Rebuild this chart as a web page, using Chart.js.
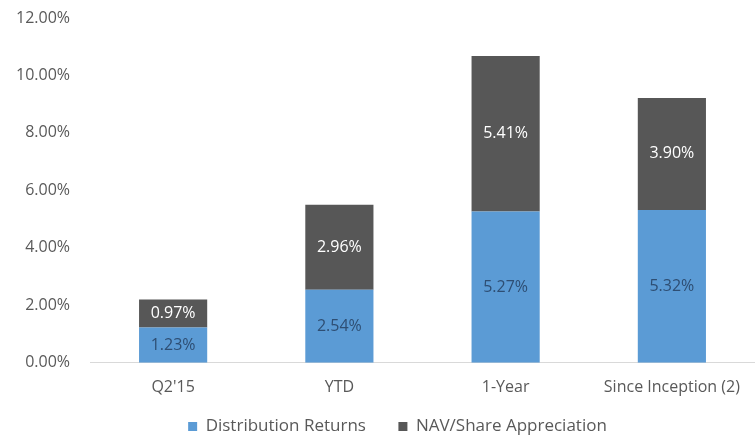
<!DOCTYPE html>
<html>
<head>
<meta charset="utf-8">
<script src="https://cdn.jsdelivr.net/npm/chart.js@4.4.0/dist/chart.umd.min.js"></script>
<style>
  html, body { margin: 0; padding: 0; background: #ffffff; }
  #wrap { width: 755px; height: 438px; }
</style>
</head>
<body>
<div id="wrap"><canvas id="myChart"></canvas></div>
<script>
const categories = ["Q2'15", "YTD", "1-Year", "Since Inception (2)"];
const distributionReturns = [1.23, 2.54, 5.27, 5.32];
const navAppreciation = [0.97, 2.96, 5.41, 3.90];
const yTicks = [0, 2, 4, 6, 8, 10, 12];

const FONT = '"Open Sans", sans-serif';

// draws the value in the middle of each bar segment
const barLabels = {
  id: 'barLabels',
  afterDatasetsDraw(chart) {
    const ctx = chart.ctx;
    ctx.save();
    ctx.font = '16px ' + FONT;
    ctx.textAlign = 'center';
    ctx.textBaseline = 'middle';
    chart.data.datasets.forEach((ds, i) => {
      const meta = chart.getDatasetMeta(i);
      meta.data.forEach((bar, j) => {
        const mid = (bar.y + bar.base) / 2;
        ctx.fillStyle = ds.labelColor;
        ctx.fillText(ds.data[j].toFixed(2) + '%', bar.x, mid);
      });
    });
    ctx.restore();
  }
};

// legend sits a bit right of the canvas centre in the original
const legendShift = {
  id: 'legendShift',
  afterLayout(chart) {
    chart.legend.left += 40;
  }
};

const ctx = document.getElementById('myChart').getContext('2d');
new Chart(ctx, {
  type: 'bar',
  data: {
    labels: categories,
    datasets: [
      {
        label: 'Distribution Returns',
        data: distributionReturns,
        backgroundColor: '#5b9bd5',
        labelColor: '#2e4e73',
        barPercentage: 0.41,
        categoryPercentage: 1.0
      },
      {
        label: 'NAV/Share Appreciation',
        data: navAppreciation,
        backgroundColor: '#575757',
        labelColor: '#ffffff',
        barPercentage: 0.41,
        categoryPercentage: 1.0
      }
    ]
  },
  options: {
    responsive: true,
    maintainAspectRatio: false,
    animation: false,
    layout: { padding: { top: 18, right: 0, bottom: -7, left: 0 } },
    plugins: {
      legend: {
        position: 'bottom',
        labels: {
          boxWidth: 9,
          boxHeight: 9,
          padding: 6,
          color: '#595959',
          font: { family: FONT, size: 17 },
          generateLabels(chart) {
            const items = Chart.defaults.plugins.legend.labels.generateLabels(chart);
            // extra room between the two entries
            items[0].text = items[0].text + '      ';
            return items;
          }
        }
      },
      tooltip: { enabled: false }
    },
    scales: {
      x: {
        stacked: true,
        grid: { display: false, drawTicks: false },
        border: { display: true, color: '#d9d9d9', width: 1 },
        ticks: {
          padding: 15,
          color: '#595959',
          font: { family: FONT, size: 16 }
        }
      },
      y: {
        stacked: true,
        min: 0,
        max: 12,
        afterFit(scale) {
          scale.width = 90;
          scale.paddingTop = 0;
          scale.paddingBottom = 0;
        },
        afterBuildTicks(scale) { scale.ticks = yTicks.map(v => ({ value: v })); },
        grid: { display: false, drawTicks: false },
        border: { display: false },
        ticks: {
          padding: 20,
          color: '#595959',
          font: { family: FONT, size: 16 },
          callback: v => v.toFixed(2) + '%'
        }
      }
    }
  },
  plugins: [barLabels, legendShift]
});
</script>
</body>
</html>
